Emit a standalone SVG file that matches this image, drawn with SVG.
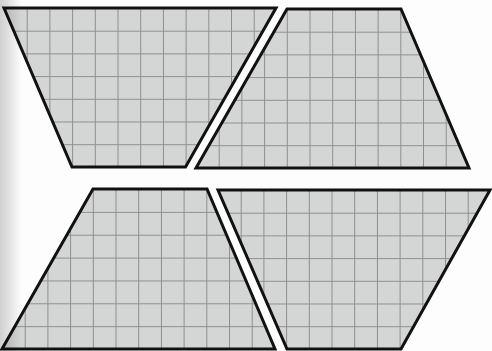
<svg xmlns="http://www.w3.org/2000/svg" width="492" height="351" viewBox="0 0 492 351">
<style>
.shape{fill:url(#g);stroke:none}
.edge{fill:none;stroke:#111;stroke-width:3;stroke-linejoin:miter}
</style>
<defs>
<pattern id="p1" patternUnits="userSpaceOnUse" x="4" y="8" width="22.7" height="22.7"><rect width="22.7" height="22.7" fill="#d4d6d6"/><path d="M0 0.5H22.7M0.5 0V22.7" stroke="#8e9090" stroke-width="1"/></pattern>
<pattern id="p2" patternUnits="userSpaceOnUse" x="196" y="9" width="22.7" height="22.7"><rect width="22.7" height="22.7" fill="#d4d6d6"/><path d="M0 0.5H22.7M0.5 0V22.7" stroke="#8e9090" stroke-width="1"/></pattern>
<pattern id="p3" patternUnits="userSpaceOnUse" x="2" y="189" width="22.7" height="22.86"><rect width="22.7" height="22.86" fill="#d4d6d6"/><path d="M0 0.5H22.7M0.5 0V22.86" stroke="#8e9090" stroke-width="1"/></pattern>
<pattern id="p4" patternUnits="userSpaceOnUse" x="218" y="190" width="22.7" height="22.7"><rect width="22.7" height="22.7" fill="#d4d6d6"/><path d="M0 0.5H22.7M0.5 0V22.7" stroke="#8e9090" stroke-width="1"/></pattern>
<linearGradient id="shade" x1="0" y1="0" x2="1" y2="0"><stop offset="0" stop-color="#000" stop-opacity="0.18"/><stop offset="1" stop-color="#000" stop-opacity="0"/></linearGradient>
</defs>
<rect width="492" height="351" fill="#fdfdfd"/>
<g id="shape-top-left">
<polygon points="4,8 276,8 185.5,167 72,167" fill="url(#p1)"/>
<polygon class="edge" points="4,8 276,8 185.5,167 72,167"/>
</g>
<g id="shape-top-right">
<polygon points="287,9 401,9 469,168 196,168" fill="url(#p2)"/>
<polygon class="edge" points="287,9 401,9 469,168 196,168"/>
</g>
<g id="shape-bottom-left">
<polygon points="93,189 207,189 275,349 2,349" fill="url(#p3)"/>
<polygon class="edge" points="93,189 207,189 275,349 2,349"/>
</g>
<g id="shape-bottom-right">
<polygon points="218,190 490,190 401,349 287,349" fill="url(#p4)"/>
<polygon class="edge" points="218,190 490,190 401,349 287,349"/>
</g>
<rect x="0" y="0" width="22" height="351" fill="url(#shade)"/>
</svg>
